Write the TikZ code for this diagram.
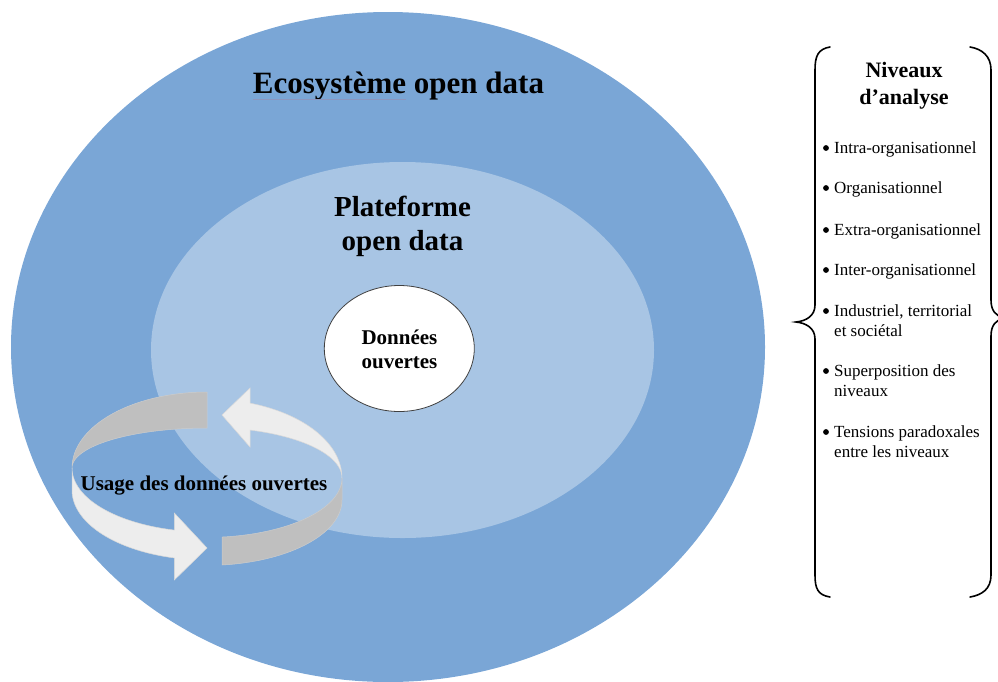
\documentclass[tikz,border=0pt]{standalone}
\usepackage{fontspec}
\setmainfont{Liberation Serif}
\usetikzlibrary{shapes.geometric}
\definecolor{outerblue}{RGB}{122,166,214}
\definecolor{innerblue}{RGB}{168,197,228}
\definecolor{ringgray}{RGB}{191,191,191}
\definecolor{ringlight}{RGB}{237,237,237}
\definecolor{ulinecol}{RGB}{140,150,190}
\begin{document}
\begin{tikzpicture}[x=1pt,y=-1pt,
  zone/.style={ellipse, inner sep=0pt},
  bigtitle/.style={font=\fontsize{31}{37}\selectfont\bfseries, anchor=base, inner sep=0pt},
  midtitle/.style={font=\fontsize{29}{34}\selectfont\bfseries, anchor=base, inner sep=0pt},
  smalltitle/.style={font=\fontsize{21}{25}\selectfont\bfseries, anchor=base, inner sep=0pt},
  paneltitle/.style={font=\fontsize{22}{27}\selectfont\bfseries, anchor=base, inner sep=0pt},
  itemtext/.style={font=\fontsize{17}{20}\selectfont, anchor=base west, inner sep=0pt},
  itembullet/.style={circle, fill=black, inner sep=0pt, minimum size=5.8pt},
  bandgray/.style={fill=ringgray, draw=black!20, line width=0.5pt},
  bandlight/.style={fill=ringlight, draw=black!15, line width=0.5pt},
  bracestyle/.style={draw=black, line width=1.6pt, line cap=round}
]
\useasboundingbox (0,0) rectangle (998,681);

% zones
\node[zone, fill=outerblue, minimum width=754pt, minimum height=670pt] (eco) at (388,347) {};
\node[zone, fill=innerblue, minimum width=503pt, minimum height=376pt] (plat) at (402.5,350) {};
\node[zone, fill=white, draw=black!75, line width=0.8pt, minimum width=150pt, minimum height=126pt] (donnees) at (399.3,348.5) {};

% titles
\node[bigtitle] (ecotitle) at (398.5,93) {Ecosystème open data};
\draw[ulinecol, line width=0.9pt] (ecotitle.base west) ++(0,6) coordinate (ul1) -- ++(153,0) coordinate (ul2);
\node[midtitle] (plat1) at (402.5,216) {Plateforme};
\node[midtitle] (plat2) at (402.5,250) {open data};
\node[smalltitle] (don1) at (399.5,344) {Données};
\node[smalltitle] (don2) at (399.5,368) {ouvertes};

% cyclic arrow ring
% arrow A: gray back-left tail
\path[bandgray]
  plot[domain=270:180, samples=40] ({207+135*cos(\x)},{468+76*sin(\x)})
  -- plot[domain=180:270, samples=40] ({207+135*cos(\x)},{468+40*sin(\x)}) -- cycle;
% arrow A: light front-left body and head
\path[bandlight]
  plot[domain=180:104, samples=40] ({207+135*cos(\x)},{468+64*sin(\x)})
  -- (174.3,513) -- (207,548) -- (174.3,580)
  -- plot[domain=104:180, samples=40] ({207+135*cos(\x)},{490+70*sin(\x)}) -- cycle;
% arrow B: light back-right body and head
\path[bandlight]
  plot[domain=360:288.6, samples=40] ({207+135*cos(\x)},{478+79*sin(\x)})
  -- (250,388) -- (222,415) -- (250,447)
  -- plot[domain=288.6:360, samples=40] ({207+135*cos(\x)},{478+50.6*sin(\x)}) -- cycle;
% arrow B: gray front-right tail
\path[bandgray]
  plot[domain=83.6:0, samples=40] ({207+135*cos(\x)},{478+59.4*sin(\x)})
  -- plot[domain=0:83.6, samples=40] ({207+135*cos(\x)},{500+65.4*sin(\x)}) -- cycle;

\node[smalltitle] (usage) at (204,490) {Usage des données ouvertes};

% right panel braces
\draw[bracestyle] (830,47) coordinate (lb1) .. controls (818,49) and (815,56) .. (815,70)
  -- (815,305) .. controls (815,316) and (806,321) .. (796,322) coordinate (lbtip)
  .. controls (806,323) and (815,328) .. (815,339)
  -- (815,575) .. controls (815,589) and (818,595) .. (830,597) coordinate (lb2);
\draw[bracestyle] (970,47) coordinate (rb1) .. controls (982,49) and (991,56) .. (991,70)
  -- (991,300) .. controls (991,311) and (996,316) .. (1004,318) coordinate (rbtip)
  .. controls (996,320) and (991,325) .. (991,336)
  -- (991,575) .. controls (991,589) and (982,595) .. (970,597) coordinate (rb2);

\node[paneltitle] (niv1) at (904,77) {Niveaux};
\node[paneltitle] (niv2) at (904,104) {d’analyse};

\node[itembullet] (b1) at (826,148) {};
\node[itemtext] (t1) at (834,153) {Intra-organisationnel};
\node[itembullet] (b2) at (826,188) {};
\node[itemtext] (t2) at (834,193) {Organisationnel};
\node[itembullet] (b3) at (826,230) {};
\node[itemtext] (t3) at (834,235) {Extra-organisationnel};
\node[itembullet] (b4) at (826,270) {};
\node[itemtext] (t4) at (834,275) {Inter-organisationnel};
\node[itembullet] (b5) at (826,311) {};
\node[itemtext] (t5a) at (834,316) {Industriel, territorial};
\node[itemtext] (t5b) at (834,336.5) {et sociétal};
\node[itembullet] (b6) at (826,371) {};
\node[itemtext] (t6a) at (834,376) {Superposition des};
\node[itemtext] (t6b) at (834,396.5) {niveaux};
\node[itembullet] (b7) at (826,432) {};
\node[itemtext] (t7a) at (834,437) {Tensions paradoxales};
\node[itemtext] (t7b) at (834,457.5) {entre les niveaux};
\end{tikzpicture}
\end{document}
